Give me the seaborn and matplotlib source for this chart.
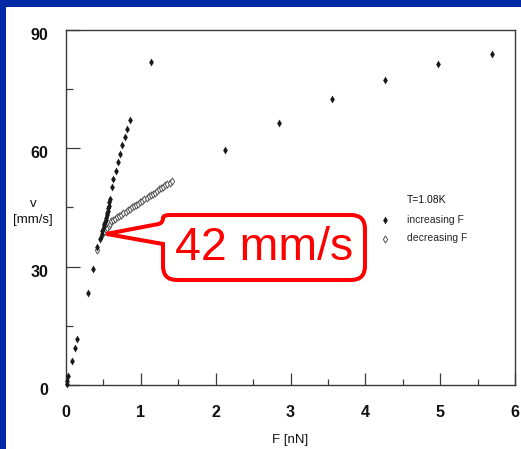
import matplotlib
matplotlib.use("Agg")
import matplotlib.pyplot as plt
import pandas as pd
import seaborn as sns
from matplotlib.path import Path
from matplotlib.patches import PathPatch, Rectangle
from matplotlib.transforms import Affine2D, ScaledTranslation
from matplotlib.ticker import FixedLocator

# Velocity v [mm/s] vs applied force F [nN] at T = 1.08 K
inc_F = [0.01, 0.02, 0.03, 0.076, 0.12, 0.15, 0.29, 0.36, 0.41, 0.453, 0.465,
         0.476, 0.487, 0.497, 0.505, 0.511, 0.520, 0.529, 0.536, 0.543, 0.550,
         0.556, 0.562, 0.569, 0.578, 0.587, 0.609, 0.631, 0.667, 0.697, 0.720,
         0.751, 0.787, 0.817, 0.853, 1.13, 2.13, 2.84, 3.55, 4.26, 4.97, 5.69]
inc_v = [0.3, 1.0, 2.3, 6.1, 9.5, 11.6, 23.4, 29.4, 34.9, 37.0, 37.6,
         38.3, 39.0, 39.6, 40.2, 40.8, 41.3, 41.9, 42.4, 43.0, 43.6,
         44.2, 44.8, 45.5, 46.3, 47.2, 50.1, 52.3, 54.2, 56.5, 58.6,
         60.9, 62.9, 65.0, 67.1, 82.0, 59.7, 66.4, 72.4, 77.4, 81.3, 84.0]

dec_F = [0.42, 0.51, 0.53, 0.55, 0.57, 0.585, 0.600, 0.628, 0.656, 0.684,
         0.712, 0.740, 0.768, 0.796, 0.824, 0.852, 0.880, 0.908, 0.936, 0.964,
         0.992, 1.020, 1.048, 1.076, 1.104, 1.132, 1.160, 1.188, 1.216, 1.244,
         1.272, 1.300, 1.328, 1.356, 1.384, 1.410]
dec_v = [34.1, 38.9, 39.3, 39.8, 40.4, 40.9, 41.5, 41.9, 42.2, 42.6,
         42.9, 43.2, 43.6, 43.9, 44.3, 44.6, 45.0, 45.3, 45.7, 46.0,
         46.4, 46.7, 47.1, 47.4, 47.8, 48.1, 48.5, 48.8, 49.2, 49.6,
         49.9, 50.3, 50.6, 51.0, 51.3, 51.7]

x_ticks = [0, 1, 2, 3, 4, 5, 6]
x_minor = [0.5, 1.5, 2.5, 3.5, 4.5, 5.5]
y_ticks = [0, 30, 60, 90]
y_minor = [15, 45, 75]

series_labels = ["increasing F", "decreasing F"]
temperature_label = "T=1.08K"
callout_text = "42 mm/s"
callout_F, callout_v = 0.54, 38.3

BLUE = "#0029A5"
RED = "#FF0000"
INK = "#1a1a1a"

sns.set_style("ticks")
plt.rcParams["font.family"] = ["Liberation Sans", "DejaVu Sans"]

W, H = 521, 449
fig = plt.figure(figsize=(W / 100, H / 100), dpi=100)
fig.patch.set_facecolor("white")
# pixel coordinates with the origin at the top-left corner
px = Affine2D().scale(1 / W, -1 / H).translate(0, 1) + fig.transFigure

# slide frame strips
fig.patches.append(Rectangle((0, 0), W, 7, transform=px, facecolor=BLUE,
                             edgecolor="none", zorder=0))
fig.patches.append(Rectangle((0, 0), 6, H, transform=px, facecolor=BLUE,
                             edgecolor="none", zorder=0))

ax = fig.add_axes([66 / W, 1 - 385 / H, 449 / W, 355 / H])
ax.set_facecolor("white")

inc = pd.DataFrame({"F": inc_F, "v": inc_v})
dec = pd.DataFrame({"F": dec_F, "v": dec_v})

sns.scatterplot(data=dec, x="F", y="v", ax=ax, marker="d", s=13,
                color="white", edgecolor="#555555", linewidth=0.7,
                clip_on=False, zorder=2, label=series_labels[1])
sns.scatterplot(data=inc, x="F", y="v", ax=ax, marker="d", s=16,
                color=INK, edgecolor=INK, linewidth=0,
                clip_on=False, zorder=3, label=series_labels[0])

ax.set_xlim(0, 6)
ax.set_ylim(0, 90)
ax.xaxis.set_major_locator(FixedLocator(x_ticks))
ax.xaxis.set_minor_locator(FixedLocator(x_minor))
ax.yaxis.set_major_locator(FixedLocator(y_ticks))
ax.yaxis.set_minor_locator(FixedLocator(y_minor))
ax.set_xticklabels([str(t) for t in x_ticks])
ax.set_yticklabels([str(t) for t in y_ticks])

for side in ["left", "right", "top", "bottom"]:
    ax.spines[side].set_visible(True)
    ax.spines[side].set_linewidth(1.0)
    ax.spines[side].set_color("#3a3a3a")

ax.tick_params(axis="both", which="both", direction="in", top=False,
               right=False, width=0.9, color="#3a3a3a", labelsize=11.5,
               labelcolor="#111111")
ax.tick_params(axis="y", which="major", length=10, pad=12.5)
ax.tick_params(axis="y", which="minor", length=5)
ax.tick_params(axis="x", which="major", length=8.5, pad=14.5)
ax.tick_params(axis="x", which="minor", length=4)

for lab in ax.get_xticklabels() + ax.get_yticklabels():
    lab.set_fontweight("bold")
shift = ScaledTranslation(0, -4 / 100, fig.dpi_scale_trans)
for tick in ax.yaxis.get_major_ticks():
    tick.label1.set_transform(tick.label1.get_transform() + shift)

ax.set_xlabel("F [nN]", fontsize=9.5, color="#111111")
ax.xaxis.label.set_va("center")
ax.xaxis.set_label_coords(0.5, (385 - 440) / 355)
ax.set_ylabel("v\n[mm/s]", rotation=0, fontsize=9.5, color="#111111",
              ha="center", va="center", linespacing=1.5)
ax.yaxis.set_label_coords((33 - 66) / 449, (385 - 212) / 355)

# legend block
handles, labels = ax.get_legend_handles_labels()
order = [labels.index(s) for s in series_labels]
ax.legend([handles[i] for i in order], [labels[i] for i in order],
          loc="upper left",
          bbox_to_anchor=((380 - 66) / 449, (385 - 215) / 355),
          frameon=False, fontsize=7.5, handlelength=1.0, handletextpad=1.6,
          labelspacing=0.8, borderpad=0, borderaxespad=0, scatterpoints=1)
ax.text(407, 200, temperature_label, transform=px, ha="left", va="center",
        fontsize=7.5, color="#111111")

# speech-bubble callout pointing at the transition
tip = px.inverted().transform(ax.transData.transform((callout_F, callout_v)))
L, R, T, B, r = 163, 365, 215, 280, 14
verts = [
    tuple(tip),
    (156, 224.5),
    (163, 224), (163, 218),
    (163, T), (170, T),
    (R - r, T),
    (R, T), (R, T + r),
    (R, B - r),
    (R, B), (R - r, B),
    (L + r, B),
    (L, B), (L, B - r),
    (L, 244),
    tuple(tip),
]
codes = [Path.MOVETO, Path.LINETO,
         Path.CURVE3, Path.CURVE3,
         Path.CURVE3, Path.CURVE3,
         Path.LINETO,
         Path.CURVE3, Path.CURVE3,
         Path.LINETO,
         Path.CURVE3, Path.CURVE3,
         Path.LINETO,
         Path.CURVE3, Path.CURVE3,
         Path.LINETO,
         Path.CLOSEPOLY]
bubble = PathPatch(Path(verts, codes), transform=px, facecolor="white",
                   edgecolor=RED, linewidth=2.9, joinstyle="miter",
                   clip_on=False, zorder=5)
ax.add_patch(bubble)
ax.text(264, 248, callout_text, transform=px, ha="center", va="center",
        fontsize=33.5, color=RED, zorder=6, clip_on=False)

fig.savefig("out.png", dpi=100, facecolor=fig.get_facecolor())
